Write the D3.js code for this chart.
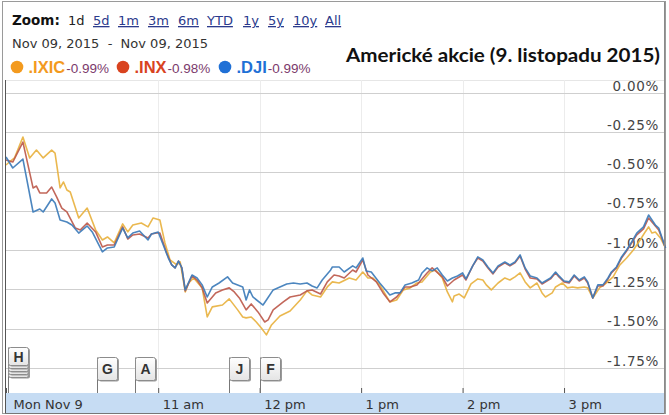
<!DOCTYPE html>
<html><head><meta charset="utf-8">
<script src="https://cdn.jsdelivr.net/npm/d3@7"></script>
<style>
html,body{margin:0;padding:0;background:#fff;}
svg{display:block;}
</style></head>
<body>
<svg id="chart" width="669" height="415"></svg>
<script>
// ---------- DATA ----------
const title = "Americké akcie (9. listopadu 2015)";
const zoomLinks = ["1d","5d","1m","3m","6m","YTD","1y","5y","10y","All"];
const dateRange = "Nov 09, 2015  -  Nov 09, 2015";
const seriesNames = [".IXIC", ".INX", ".DJI"];
const seriesChange = ["-0.99%", "-0.98%", "-0.99%"];
const yTicks = [0, -0.25, -0.5, -0.75, -1.0, -1.25, -1.5, -1.75];
const xTicks = ["09:30","11:00","12:00","13:00","14:00","15:00"];
const xTickLabels = ["Mon Nov 9","11 am","12 pm","1 pm","2 pm","3 pm"];
const flagTimes = ["09:31","10:24","10:46","11:42","12:00"];
const flagLetters = ["H","G","A","J","F"];
const flagStack = [5,1,1,1,1];

const ixic = [["09:30",-0.458],["09:32",-0.439],["09:35",-0.413],["09:40",-0.280],["09:44",-0.413],["09:48",-0.363],["09:52",-0.413],["09:57",-0.363],["09:59",-0.382],["10:02",-0.604],["10:04",-0.566],["10:06",-0.617],["10:08",-0.630],["10:13",-0.795],["10:18",-0.732],["10:23",-0.871],["10:27",-0.935],["10:30",-0.916],["10:34",-0.954],["10:39",-0.833],["10:42",-0.884],["10:45",-0.840],["10:50",-0.827],["10:54",-0.852],["10:57",-0.795],["11:01",-0.808],["11:04",-0.954],["11:07",-1.062],["11:11",-1.094],["11:13",-1.075],["11:16",-1.266],["11:18",-1.209],["11:21",-1.177],["11:23",-1.202],["11:26",-1.240],["11:29",-1.425],["11:32",-1.361],["11:38",-1.349],["11:42",-1.310],["11:47",-1.380],["11:50",-1.425],["11:52",-1.431],["11:55",-1.425],["11:58",-1.457],["12:01",-1.495],["12:04",-1.539],["12:07",-1.476],["12:12",-1.419],["12:18",-1.387],["12:24",-1.317],["12:28",-1.259],["12:31",-1.285],["12:36",-1.298],["12:40",-1.234],["12:43",-1.202],["12:47",-1.209],["12:53",-1.177],["12:57",-1.190],["13:01",-1.139],["13:04",-1.177],["13:07",-1.177],["13:11",-1.221],["13:17",-1.329],["13:21",-1.317],["13:25",-1.253],["13:29",-1.240],["13:33",-1.209],["13:36",-1.202],["13:41",-1.139],["13:44",-1.126],["13:48",-1.177],["13:51",-1.266],["13:54",-1.329],["13:55",-1.291],["13:58",-1.279],["14:01",-1.304],["14:05",-1.215],["14:09",-1.183],["14:12",-1.190],["14:14",-1.221],["14:17",-1.253],["14:21",-1.209],["14:25",-1.177],["14:28",-1.190],["14:31",-1.170],["14:34",-1.145],["14:37",-1.202],["14:40",-1.240],["14:44",-1.209],["14:47",-1.272],["14:49",-1.298],["14:53",-1.272],["14:55",-1.234],["14:59",-1.209],["15:02",-1.240],["15:05",-1.234],["15:08",-1.240],["15:12",-1.234],["15:14",-1.240],["15:17",-1.304],["15:21",-1.240],["15:25",-1.209],["15:29",-1.170],["15:33",-1.094],["15:37",-1.050],["15:41",-0.999],["15:45",-0.935],["15:48",-0.884],["15:50",-0.852],["15:52",-0.891],["15:54",-0.884],["15:57",-0.922],["16:00",-0.986]];

const inx = [["09:30",-0.426],["09:34",-0.439],["09:40",-0.312],["09:46",-0.604],["09:48",-0.592],["09:50",-0.636],["09:54",-0.636],["09:57",-0.598],["10:00",-0.662],["10:03",-0.732],["10:06",-0.757],["10:11",-0.859],["10:14",-0.871],["10:18",-0.827],["10:23",-0.884],["10:27",-0.980],["10:30",-0.967],["10:34",-0.967],["10:39",-0.852],["10:42",-0.929],["10:45",-0.903],["10:49",-0.897],["10:54",-0.922],["10:56",-0.897],["10:59",-0.891],["11:01",-0.891],["11:05",-1.018],["11:08",-1.094],["11:10",-1.113],["11:12",-1.069],["11:14",-1.113],["11:16",-1.259],["11:20",-1.164],["11:23",-1.190],["11:26",-1.240],["11:29",-1.336],["11:34",-1.272],["11:38",-1.253],["11:42",-1.240],["11:45",-1.266],["11:48",-1.304],["11:52",-1.380],["11:55",-1.342],["11:59",-1.393],["12:03",-1.457],["12:05",-1.444],["12:08",-1.380],["12:14",-1.329],["12:18",-1.298],["12:24",-1.285],["12:28",-1.259],["12:31",-1.253],["12:36",-1.279],["12:40",-1.202],["12:44",-1.158],["12:47",-1.164],["12:50",-1.177],["12:55",-1.126],["12:57",-1.139],["13:01",-1.062],["13:04",-1.158],["13:09",-1.202],["13:13",-1.272],["13:17",-1.329],["13:21",-1.298],["13:26",-1.234],["13:29",-1.234],["13:33",-1.221],["13:39",-1.145],["13:42",-1.113],["13:48",-1.170],["13:51",-1.228],["13:55",-1.190],["14:00",-1.158],["14:02",-1.190],["14:06",-1.100],["14:09",-1.050],["14:12",-1.069],["14:15",-1.113],["14:18",-1.151],["14:21",-1.107],["14:25",-1.081],["14:28",-1.100],["14:31",-1.081],["14:34",-1.037],["14:37",-1.120],["14:40",-1.177],["14:44",-1.183],["14:47",-1.215],["14:52",-1.183],["14:55",-1.145],["14:57",-1.170],["15:00",-1.202],["15:03",-1.209],["15:06",-1.164],["15:09",-1.196],["15:12",-1.177],["15:14",-1.209],["15:17",-1.304],["15:20",-1.228],["15:23",-1.228],["15:26",-1.183],["15:28",-1.145],["15:31",-1.113],["15:34",-1.050],["15:37",-1.005],["15:40",-0.954],["15:43",-0.903],["15:47",-0.865],["15:50",-0.795],["15:52",-0.821],["15:54",-0.846],["15:56",-0.871],["15:58",-0.929],["16:00",-0.986]];

const dji = [["09:30",-0.407],["09:34",-0.477],["09:40",-0.420],["09:46",-0.757],["09:50",-0.738],["09:52",-0.757],["09:57",-0.674],["09:59",-0.700],["10:02",-0.808],["10:06",-0.821],["10:09",-0.840],["10:13",-0.891],["10:18",-0.846],["10:21",-0.884],["10:27",-1.011],["10:30",-0.986],["10:34",-0.980],["10:39",-0.859],["10:42",-0.922],["10:45",-0.891],["10:49",-0.878],["10:54",-0.935],["10:56",-0.897],["11:00",-0.884],["11:03",-0.967],["11:06",-1.050],["11:08",-1.094],["11:10",-1.113],["11:12",-1.069],["11:14",-1.113],["11:16",-1.253],["11:20",-1.158],["11:23",-1.177],["11:26",-1.221],["11:29",-1.298],["11:32",-1.234],["11:36",-1.209],["11:41",-1.170],["11:44",-1.209],["11:50",-1.234],["11:52",-1.317],["11:54",-1.253],["11:56",-1.298],["12:02",-1.349],["12:04",-1.317],["12:08",-1.253],["12:12",-1.234],["12:16",-1.215],["12:20",-1.209],["12:24",-1.215],["12:28",-1.209],["12:31",-1.228],["12:34",-1.240],["12:37",-1.190],["12:42",-1.126],["12:43",-1.107],["12:47",-1.107],["12:50",-1.139],["12:55",-1.100],["12:57",-1.113],["13:01",-1.050],["13:03",-1.132],["13:06",-1.139],["13:11",-1.209],["13:17",-1.285],["13:20",-1.272],["13:23",-1.272],["13:26",-1.221],["13:30",-1.209],["13:34",-1.190],["13:36",-1.145],["13:39",-1.113],["13:42",-1.132],["13:45",-1.113],["13:48",-1.158],["13:51",-1.196],["13:54",-1.177],["13:57",-1.164],["14:00",-1.145],["14:02",-1.183],["14:06",-1.100],["14:09",-1.043],["14:12",-1.062],["14:15",-1.107],["14:18",-1.145],["14:21",-1.100],["14:25",-1.075],["14:28",-1.094],["14:31",-1.075],["14:34",-1.030],["14:37",-1.113],["14:40",-1.164],["14:44",-1.177],["14:47",-1.209],["14:52",-1.177],["14:55",-1.139],["14:57",-1.164],["15:00",-1.196],["15:03",-1.202],["15:06",-1.158],["15:09",-1.190],["15:12",-1.170],["15:14",-1.202],["15:17",-1.304],["15:20",-1.221],["15:23",-1.221],["15:26",-1.177],["15:28",-1.139],["15:31",-1.107],["15:34",-1.043],["15:37",-0.999],["15:40",-0.948],["15:43",-0.891],["15:47",-0.852],["15:50",-0.776],["15:52",-0.808],["15:54",-0.840],["15:56",-0.859],["15:58",-0.922],["16:00",-0.986]];

const lineColors = ["#e8b240", "#bd5a4c", "#3d7cba"];
const dotColors = ["#f39a1e", "#d9431f", "#1f70d6"];

// ---------- DRAW ----------
const svg = d3.select("#chart");
const plotL = 5, plotR = 664.5, plotT = 80, plotB = 393;
const parse = d3.timeParse("%H:%M");
const x = d3.scaleTime().domain([parse("09:30"), parse("16:00")]).range([6, 665.5]);
const y = d3.scaleLinear().domain([-1.909, 0.083]).range([plotB, plotT]);
const loc = d3.formatLocale({decimal:".", thousands:",", grouping:[3], currency:["$",""], minus:"-"});
const fmt = loc.format(".2f");

// outer frame
svg.append("rect").attr("x",2.5).attr("y",1.5).attr("width",663).attr("height",412)
  .attr("fill","#fff").attr("stroke","#9a9a9a");

// header
const hdr = svg.append("g").attr("font-family","'DejaVu Sans', Verdana, sans-serif");
hdr.append("text").attr("x",12).attr("y",25).attr("font-size",13.5).attr("font-weight","bold")
  .attr("fill","#111").text("Zoom:");
const linkX = [68,93,118,148,178,207,243,268,293,325];
hdr.selectAll("text.lnk").data(zoomLinks).join("text").attr("class","lnk")
  .attr("x",(d,i)=>linkX[i]).attr("y",25).attr("font-size",13)
  .attr("fill",(d,i)=> i===0 ? "#222" : "#2b3a8c")
  .attr("text-decoration",(d,i)=> i===0 ? "none" : "underline")
  .text(d=>d);
hdr.append("text").attr("x",12).attr("y",48).attr("font-size",13).attr("fill","#333")
  .attr("xml:space","preserve").style("white-space","pre").text(dateRange);

// legend
const legX = [17,123,225];
const lg = svg.append("g");
seriesNames.forEach((n,i)=>{
  lg.append("circle").attr("cx",legX[i]).attr("cy",67).attr("r",6.3).attr("fill",dotColors[i]);
  const t = lg.append("text").attr("x",legX[i]+11.5).attr("y",72.5)
    .attr("font-family","'Liberation Sans', Arial, sans-serif");
  t.append("tspan").attr("font-size",16.5).attr("font-weight","bold").attr("fill",dotColors[i]).text(n);
  t.append("tspan").attr("font-size",13.5).attr("fill","#7b3a6c").attr("dx",1).text(seriesChange[i]);
});

// title
svg.append("text").attr("x",660).attr("y",62).attr("text-anchor","end")
  .attr("font-family","Lato, 'Open Sans', sans-serif").attr("font-weight","bold")
  .attr("font-size",19.5).attr("fill","#111").attr("textLength",314).attr("lengthAdjust","spacingAndGlyphs")
  .text(title);

// plot top separator
svg.append("line").attr("x1",plotL).attr("x2",plotR).attr("y1",plotT+0.5).attr("y2",plotT+0.5)
  .attr("stroke","#e6e6e6");

// vertical grid
const xt = xTicks.map(parse);
svg.append("g").selectAll("line").data(xt.slice(1)).join("line")
  .attr("x1",d=>Math.round(x(d))+0.5).attr("x2",d=>Math.round(x(d))+0.5)
  .attr("y1",plotT).attr("y2",plotB).attr("stroke","#ececec");

// horizontal grid + labels
const yg = svg.append("g");
yg.selectAll("line").data(yTicks).join("line")
  .attr("x1",plotL).attr("x2",plotR)
  .attr("y1",d=>Math.round(y(d))+0.5).attr("y2",d=>Math.round(y(d))+0.5)
  .attr("stroke","#cfcfcf");
yg.selectAll("text").data(yTicks).join("text")
  .attr("x",659).attr("y",d=>y(d)-2.5).attr("text-anchor","end")
  .attr("font-family","'DejaVu Sans', Verdana, sans-serif").attr("font-size",13.5)
  .attr("letter-spacing",0.7)
  .attr("fill","#444").text(d=>fmt(d)+"%");

// lines
const lineGen = d3.line().x(d=>x(parse(d[0]))).y(d=>y(d[1]));
[ixic, inx, dji].forEach((s,i)=>{
  svg.append("path").datum(s).attr("d",lineGen).attr("fill","none")
    .attr("stroke",lineColors[i]).attr("stroke-width",1.6).attr("stroke-linejoin","round")
    .attr("opacity",0.92);
});

// x axis band
svg.append("rect").attr("x",plotL).attr("y",plotB).attr("width",plotR-plotL).attr("height",20)
  .attr("fill","#c6dcf3");
const xAxis = d3.axisTop(x).tickValues(xt).tickSize(5).tickFormat((d,i)=>xTickLabels[i]);
const ax = svg.append("g").attr("transform",`translate(0,${plotB})`).call(xAxis);
ax.select(".domain").remove();
ax.selectAll(".tick line").attr("stroke","#555");
ax.selectAll(".tick text").attr("text-anchor","start").attr("x",4).attr("y",15.5).attr("dy",0)
  .attr("font-family","'DejaVu Sans', Verdana, sans-serif").attr("font-size",13).attr("fill","#333");
ax.selectAll(".tick").filter((d,i)=>i===0).select("text").attr("x",7);

// left axis line, bottom, right
svg.append("line").attr("x1",plotL+0.5).attr("x2",plotL+0.5).attr("y1",plotT).attr("y2",plotB+20)
  .attr("stroke","#555");
svg.append("line").attr("x1",plotL).attr("x2",plotR).attr("y1",plotB+20.5).attr("y2",plotB+20.5)
  .attr("stroke","#777");
svg.append("line").attr("x1",plotR).attr("x2",plotR).attr("y1",2).attr("y2",plotB+20)
  .attr("stroke","#8a8a8a");

// flags
const defs = svg.append("defs");
const gr = defs.append("linearGradient").attr("id","fg").attr("x1",0).attr("y1",0).attr("x2",0).attr("y2",1);
gr.append("stop").attr("offset","0%").attr("stop-color","#ffffff");
gr.append("stop").attr("offset","100%").attr("stop-color","#e4e4e4");
const fl = svg.append("g");
flagLetters.forEach((L,i)=>{
  const fx = Math.round(x(parse(flagTimes[i]))) + 0.5;
  const n = flagStack[i];
  const top = n>1 ? 347.5 : 357.5;
  const h = n>1 ? 18 : 23;
  fl.append("line").attr("x1",fx).attr("x2",fx).attr("y1",top).attr("y2",plotB).attr("stroke","#777");
  for(let k=n-1;k>=0;k--){
    const yy = top + k*3;
    fl.append("rect").attr("x",fx+1.5).attr("y",yy+1).attr("width",20).attr("height",h)
      .attr("fill","#9a9a9a").attr("rx",2);
    fl.append("rect").attr("x",fx).attr("y",yy).attr("width",20).attr("height",h)
      .attr("fill","url(#fg)").attr("stroke","#8c8c8c").attr("rx",2);
  }
  fl.append("text").attr("x",fx+10).attr("y",top+ (n>1?14:16)).attr("text-anchor","middle")
    .attr("font-family","'Liberation Sans', Arial, sans-serif").attr("font-weight","bold")
    .attr("font-size",14).attr("fill","#333").text(L);
});
</script>
</body></html>
